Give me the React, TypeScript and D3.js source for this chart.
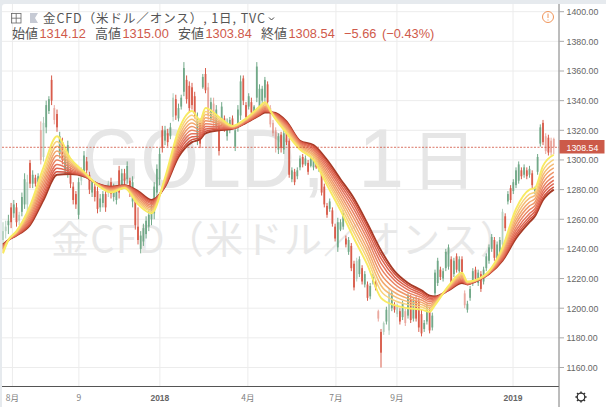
import * as d3 from 'd3';

// prices per bar, one candle for every two sessions
const highs = [
  1258,1259,1263,1271,1273,1271,1265,1278,1291,1290,
  1300,1293,1290,1291,1326,1329,1340,1343,1357,1337,
  1334,1319,1315,1306,1313,1295,1285,1279,1288,1295,
  1306,1302,1292,1287,1284,1282,1277,1279,1280,1286,
  1288,1284,1283,1296,1294,1294,1299,1288,1289,1275,
  1268,1252,1257,1262,1266,1272,1285,1297,1308,1323,
  1323,1321,1325,1345,1344,1338,1344,1366,1357,1353,
  1352,1346,1332,1328,1358,1362,1352,1342,1342,1337,
  1327,1339,1330,1328,1329,1330,1323,1337,1357,1357,
  1339,1345,1342,1337,1366,1351,1350,1356,1353,1337,
  1327,1322,1318,1319,1320,1321,1315,1295,1294,1295,
  1303,1304,1303,1300,1303,1302,1301,1302,1293,1284,
  1271,1274,1268,1257,1261,1260,1266,1249,1248,1244,
  1232,1234,1235,1229,1225,1218,1217,1223,1219,1199,
  1186,1191,1201,1213,1212,1204,1203,1200,1205,1200,
  1210,1209,1207,1208,1207,1199,1192,1203,1200,1197,
  1226,1234,1228,1227,1240,1243,1235,1234,1237,1235,
  1235,1212,1205,1215,1227,1228,1226,1225,1228,1237,
  1243,1250,1248,1245,1248,1267,1264,1279,1283,1287,
  1295,1299,1295,1297,1295,1296,1293,1282,1304,1324,
  1327,1318,1317,1315,1315,
];
const lows = [
  1240,1247,1250,1254,1261,1255,1256,1262,1267,1265,
  1281,1281,1282,1283,1297,1299,1318,1331,1337,1324,
  1319,1301,1297,1290,1288,1281,1270,1267,1260,1283,
  1288,1290,1277,1275,1272,1264,1265,1268,1265,1275,
  1274,1272,1270,1274,1280,1283,1284,1275,1268,1253,
  1243,1237,1242,1247,1252,1256,1260,1275,1283,1305,
  1310,1309,1314,1326,1327,1326,1334,1343,1338,1332,
  1334,1328,1310,1308,1348,1345,1327,1326,1322,1320,
  1303,1323,1319,1313,1318,1321,1306,1319,1327,1337,
  1326,1334,1329,1331,1339,1332,1338,1339,1337,1322,
  1316,1305,1304,1305,1304,1310,1288,1285,1283,1287,
  1293,1295,1296,1290,1295,1293,1294,1292,1276,1268,
  1261,1265,1255,1245,1238,1252,1253,1241,1236,1225,
  1212,1218,1221,1216,1214,1205,1206,1216,1212,1191,
  1160,1182,1189,1182,1198,1197,1194,1189,1192,1188,
  1193,1190,1191,1191,1184,1181,1184,1189,1183,1185,
  1208,1215,1219,1218,1225,1226,1215,1221,1224,1223,
  1221,1200,1197,1205,1215,1218,1215,1211,1216,1225,
  1230,1238,1232,1230,1235,1241,1252,1270,1271,1277,
  1281,1284,1287,1288,1287,1288,1281,1277,1290,1309,
  1310,1304,1303,1303,1303.84,
];
const opens = [
  1246,1252,1256,1268,1264,1268,1259,1265,1270,1270,
  1298,1284,1288,1285,1320,1302,1322,1333,1354,1335,
  1331,1304,1312,1293,1292,1292,1282,1277,1263,1286,
  1291,1299,1290,1278,1282,1279,1268,1271,1277,1278,
  1285,1275,1273,1293,1283,1291,1287,1286,1272,1272,
  1255,1240,1245,1250,1255,1260,1264,1278,1287,1320,
  1313,1318,1316,1329,1341,1328,1336,1346,1354,1350,
  1349,1343,1314,1325,1349,1358,1349,1328,1338,1323,
  1323,1326,1328,1316,1320,1328,1309,1322,1330,1355,
  1337,1336,1339,1332,1342,1335,1340,1342,1351,1335,
  1325,1320,1307,1317,1307,1319,1313,1287,1292,1289,
  1295,1302,1297,1298,1296,1295,1299,1294,1291,1282,
  1269,1267,1266,1255,1241,1253,1255,1247,1238,1242,
  1230,1220,1223,1227,1216,1216,1208,1218,1217,1198,
  1184,1184,1191,1185,1200,1202,1196,1198,1194,1198,
  1195,1206,1193,1205,1205,1196,1186,1191,1198,1187,
  1210,1217,1226,1220,1227,1228,1233,1223,1235,1225,
  1233,1210,1199,1207,1217,1226,1217,1223,1218,1227,
  1232,1240,1246,1232,1237,1243,1262,1272,1281,1279,
  1283,1286,1293,1290,1293,1290,1291,1279,1292,1311,
  1325,1316,1315,1313,1314.12,
];
const closes = [
  1252,1255,1259,1258,1270,1258,1263,1275,1287,1285,
  1284,1290,1284,1289,1300,1325,1337,1341,1340,1327,
  1322,1316,1300,1303,1310,1284,1273,1270,1285,1293,
  1303,1293,1280,1285,1275,1267,1274,1277,1268,1284,
  1277,1281,1280,1278,1291,1286,1296,1278,1285,1256,
  1246,1249,1254,1259,1263,1269,1282,1294,1304,1308,
  1320,1312,1322,1342,1330,1335,1342,1362,1341,1335,
  1337,1331,1328,1311,1356,1347,1330,1339,1325,1334,
  1306,1336,1322,1325,1327,1323,1320,1334,1353,1340,
  1329,1343,1332,1336,1363,1348,1348,1354,1339,1324,
  1318,1308,1316,1308,1318,1312,1290,1293,1285,1293,
  1301,1297,1301,1292,1301,1300,1295,1300,1278,1270,
  1263,1272,1257,1247,1258,1258,1264,1243,1246,1227,
  1214,1232,1233,1218,1223,1207,1215,1221,1214,1193,
  1170,1190,1199,1210,1210,1199,1201,1191,1203,1190,
  1208,1192,1205,1193,1187,1183,1190,1201,1185,1195,
  1224,1232,1221,1225,1238,1241,1217,1232,1226,1233,
  1223,1202,1203,1213,1225,1220,1224,1213,1226,1235,
  1241,1248,1234,1243,1246,1265,1254,1277,1273,1285,
  1293,1297,1289,1295,1289,1294,1283,1281,1302,1322,
  1312,1306,1305,1305,1308.54,
];
// candles that show up washed out in the picture
const fadedBars = [0, 1, 6, 9, 14, 15, 19, 29, 39, 63, 76, 78, 99, 100, 101, 131, 139, 141, 143, 146, 149, 171, 185, 201, 203, 204];

// moving average ribbon, read at these bars, fastest (yellow) to slowest (dark)
const ribbonBars = [0,2,5,10,15,20,25,30,35,40,45,50,55,60,65,70,73,75,80,85,90,95,97,100,105,110,115,120,125,130,135,140,145,150,155,158,160,165,170,172,175,180,185,190,195,197,200,204];
const ema1 = [1237,1246,1252,1269,1295,1316,1301,1292,1283,1278,1281,1270,1264,1288,1320,1333,1327,1335,1329,1323,1328,1336,1339,1330,1318,1307,1300,1283,1266,1247,1229,1207,1202,1200,1199,1197.5,1202,1215,1224,1218,1219,1225,1241,1267,1280,1281,1296,1303.5];
const ema2 = [1237.8,1246,1251.6,1267.2,1291.9,1312.4,1299.5,1291.6,1283.1,1278.6,1281.3,1271.3,1265.3,1287.2,1317.5,1330.1,1325.2,1332.6,1327.7,1322.7,1327.6,1335.2,1338,1330.3,1319.1,1307.8,1301.4,1285.4,1268.9,1250.8,1232.9,1211.5,1205.2,1202.4,1200.8,1199,1202.8,1214.6,1223,1217.7,1218.9,1224.7,1239.7,1264.2,1276.9,1278.3,1292.8,1300.2];
const ema3 = [1238.6,1246,1251.2,1265.6,1289.3,1309.2,1298.3,1291.2,1283.3,1279,1281.5,1272.3,1266.3,1286.4,1315.3,1327.5,1323.6,1330.6,1326.7,1322.5,1327.2,1334.4,1337.2,1330.5,1320.1,1308.6,1302.6,1287.4,1271.5,1254,1236.3,1215.3,1208,1204.4,1202.4,1200.4,1203.6,1214.2,1222.2,1217.5,1218.7,1224.5,1238.7,1261.8,1274.3,1276.1,1290,1297.4];
const ema4 = [1239.3,1246,1250.9,1264.1,1286.6,1306.1,1297,1290.9,1283.4,1279.5,1281.8,1273.4,1267.4,1285.7,1313.2,1325,1322.1,1328.5,1325.6,1322.2,1326.9,1333.7,1336.3,1330.8,1321,1309.3,1303.8,1289.5,1274,1257.3,1239.6,1219.2,1210.7,1206.5,1203.9,1201.7,1204.3,1213.9,1221.3,1217.2,1218.6,1224.2,1237.6,1259.4,1271.6,1273.8,1287.3,1294.6];
const ema5 = [1240,1246,1250.5,1262.5,1284,1303,1295.8,1290.5,1283.5,1280,1282,1274.5,1268.5,1285,1311,1322.5,1320.5,1326.5,1324.5,1322,1326.5,1333,1335.5,1331,1322,1310,1305,1291.5,1276.5,1260.5,1243,1223,1213.5,1208.5,1205.5,1203,1205,1213.5,1220.5,1217,1218.5,1224,1236.5,1257,1269,1271.5,1284.5,1291.8];
const ema6 = [1240.7,1246,1250.1,1260.9,1281.4,1299.9,1294.5,1290.1,1283.6,1280.5,1282.2,1275.6,1269.6,1284.3,1308.8,1320,1318.9,1324.5,1323.4,1321.8,1326.1,1332.3,1334.7,1331.2,1323,1310.7,1306.2,1293.5,1279,1263.7,1246.4,1226.8,1216.3,1210.5,1207.1,1204.3,1205.7,1213.1,1219.7,1216.8,1218.4,1223.8,1235.4,1254.6,1266.4,1269.2,1281.7,1288.9];
const ema7 = [1241.4,1246,1249.8,1259.5,1278.9,1297,1293.3,1289.8,1283.7,1280.9,1282.5,1276.6,1270.6,1283.6,1306.9,1317.7,1317.5,1322.6,1322.4,1321.5,1325.8,1331.6,1333.9,1331.5,1323.8,1311.4,1307.3,1295.4,1281.3,1266.7,1249.4,1230.4,1218.8,1212.4,1208.5,1205.5,1206.4,1212.8,1218.9,1216.5,1218.3,1223.5,1234.4,1252.4,1263.9,1267.1,1279.2,1286.3];
const ema8 = [1242,1246,1249.5,1258.2,1276.7,1294.4,1292.3,1289.5,1283.8,1281.3,1282.7,1277.5,1271.5,1283,1305.1,1315.6,1316.2,1320.9,1321.5,1321.3,1325.5,1331,1333.2,1331.7,1324.6,1312,1308.3,1297.1,1283.4,1269.4,1252.2,1233.6,1221.1,1214.1,1209.8,1206.6,1207,1212.5,1218.2,1216.3,1218.2,1223.3,1233.5,1250.4,1261.7,1265.2,1276.9,1284];
const ema9 = [1242.5,1246,1249.2,1257,1274.8,1292.1,1291.3,1289.2,1283.9,1281.7,1282.8,1278.3,1272.3,1282.5,1303.4,1313.7,1315,1319.4,1320.7,1321.2,1325.2,1330.5,1332.6,1331.8,1325.4,1312.5,1309.2,1298.6,1285.3,1271.8,1254.8,1236.4,1223.2,1215.6,1211,1207.6,1207.5,1212.2,1217.6,1216.2,1218.1,1223.2,1232.7,1248.6,1259.8,1263.5,1274.8,1281.9];
const ema10 = [1243,1246,1249,1256,1273,1290,1290.5,1289,1284,1282,1283,1279,1273,1282,1302,1312,1314,1318,1320,1321,1325,1330,1332,1332,1326,1313,1310,1300,1287,1274,1257,1239,1225,1217,1212,1208.5,1208,1212,1217,1216,1218,1223,1232,1247,1258,1262,1273,1280];
const ribbon = [ema10, ema9, ema8, ema7, ema6, ema5, ema4, ema3, ema2, ema1];
const ribbonColors = ['#a63a26', '#d2523f', '#de6550', '#e4735c', '#ea8464', '#ee9568', '#f2a86e', '#f5bb74', '#f8d27a', '#f8ea62'];

const priceTicks = [1400, 1380, 1360, 1340, 1320, 1300, 1280, 1260, 1240, 1220, 1200, 1180, 1160];
const timeBars = [3.5, 28.1, 58.1, 90.7, 123.3, 145.9, 188.9];
const timeLabels = ['8月', '9', '2018', '4月', '7月', '9月', '2019'];
const lastPrice = 1308.54;
const legendItems = [
  { name: '始値', value: '1314.12', x: 12 },
  { name: '高値', value: '1315.00', x: 95 },
  { name: '安値', value: '1303.84', x: 178 },
  { name: '終値', value: '1308.54', x: 261 },
];

const UP = '#6ba583';
const DOWN = '#d75442';
const RED_TEXT = '#cf5a4b';
const GRID = '#ececec';
const MARK = '#e6e6e6';
const FONT = '"Liberation Sans", Arial, sans-serif';
const JP = '"Noto Sans CJK JP", sans-serif';

const App = () => {
  const x = d3.scaleLinear().domain([0, 204]).range([3, 553.8]);
  const y = d3.scaleLinear().domain([1160, 1400]).range([367.5, 11.7]);
  const ribbonLine = d3.line<number>()
    .x((_, i) => x(ribbonBars[i]))
    .y(d => y(d))
    .curve(d3.curveMonotoneX);
  const gearTeeth = d3.range(8).map(i => i * 45);

  return (
    <svg width={606} height={407} style={{ position: 'absolute', left: 0, top: 0, background: '#e6eaee' }}>
      <rect x={2} y={4} width={610} height={410} rx={3} fill="#fff" />

      {/* grid */}
      {priceTicks.map(p => (
        <line key={p} x1={2} x2={559} y1={y(p)} y2={y(p)} stroke={GRID} strokeWidth={1} />
      ))}
      {timeBars.map(b => (
        <line key={b} x1={x(b)} x2={x(b)} y1={4} y2={386} stroke={GRID} strokeWidth={1} />
      ))}

      {/* watermark */}
      <text x={82} y={187} fontFamily={FONT} fontSize={83} fill={MARK} textLength={213} lengthAdjust="spacingAndGlyphs">GOLD</text>
      <text x={302} y={187} fontFamily={FONT} fontSize={83} fill={MARK}>,</text>
      <text x={358} y={187} fontFamily={FONT} fontSize={83} fill={MARK}>1</text>
      <text x={411} y={184} fontFamily={JP} fontSize={66} fill={MARK}>日</text>
      <text x={51} y={253} fontFamily={JP} fontSize={38} fill="#e8e8e8" textLength={467}>金CFD（米ドル／オンス）</text>

      {/* candles */}
      <g>
        {highs.map((h, i) => {
          const up = closes[i] >= opens[i];
          const color = up ? UP : DOWN;
          const top = y(Math.max(opens[i], closes[i]));
          const bottom = y(Math.min(opens[i], closes[i]));
          return (
            <g key={i} opacity={fadedBars.includes(i) ? 0.5 : 0.95}>
              <line x1={x(i)} x2={x(i)} y1={y(h)} y2={y(lows[i])} stroke={color} strokeWidth={1} />
              <rect x={x(i) - 0.9} y={top} width={1.8} height={Math.max(bottom - top, 0.8)} fill={color} />
            </g>
          );
        })}
      </g>

      {/* ribbon */}
      <g fill="none">
        {ribbon.map((series, i) => (
          <path
            key={i}
            d={ribbonLine(series) || ''}
            stroke={ribbonColors[i]}
            strokeWidth={i === 0 || i === ribbon.length - 1 ? 1.9 : 1.5}
          />
        ))}
      </g>

      {/* last price */}
      <line x1={2} x2={559} y1={y(lastPrice)} y2={y(lastPrice)} stroke="#d0503e" strokeWidth={0.8} strokeDasharray="2,1.5" />

      {/* axes */}
      <line x1={2} x2={559} y1={386.5} y2={386.5} stroke="#555" strokeWidth={1} />
      <line x1={559} x2={559} y1={4} y2={407} stroke="#7a7a7a" strokeWidth={1} />
      {priceTicks.map(p => (
        <g key={p}>
          <line x1={559} x2={564} y1={y(p)} y2={y(p)} stroke="#aaa" strokeWidth={1} />
          <text x={566.5} y={y(p) + 3.3} fontFamily={FONT} fontSize={8.8} fill="#666">{p.toFixed(2)}</text>
        </g>
      ))}
      <rect x={559.5} y={140} width={45} height={13.5} fill="#cc5a49" />
      <text x={566.5} y={y(lastPrice) + 3.3} fontFamily={FONT} fontSize={8.8} fill="#fff">{lastPrice.toFixed(2)}</text>
      {timeBars.map((b, i) => {
        const bold = timeLabels[i].startsWith('20');
        return (
          <text
            key={b}
            x={x(b)}
            y={401}
            textAnchor="middle"
            fontFamily={bold ? FONT : JP}
            fontSize={8.5}
            fontWeight={bold ? 'bold' : 'normal'}
            fill={bold ? '#666' : '#808080'}
          >
            {timeLabels[i]}
          </text>
        );
      })}

      {/* title and legend */}
      <rect x={11.5} y={13.5} width={9.5} height={9.5} fill="none" stroke="#666" strokeWidth={0.8} />
      <path d="M16.2 13.5V23M11.5 18.2H21" stroke="#666" strokeWidth={0.8} />
      <path d="M30 13H38L35 18L38 23H30Z" fill="#c6cad4" />
      <text x={43} y={23} fontFamily={JP} fontSize={12.5} fill="#555" textLength={222}>金CFD（米ドル／オンス）, 1日, TVC</text>
      <path d="M269 17.5L271.5 20L274 17.5" fill="none" stroke="#444" strokeWidth={1} />
      {legendItems.map(d => (
        <g key={d.name}>
          <text x={d.x} y={38} fontSize={13} fontFamily={JP} fill="#555">{d.name}</text>
          <text x={d.x + 27.5} y={38} fontSize={12.8} fontFamily={FONT} fill={RED_TEXT}>{d.value}</text>
        </g>
      ))}
      <text x={344} y={38} fontFamily={FONT} fontSize={12.8} fill={RED_TEXT}>−5.66</text>
      <text x={382} y={38} fontFamily={FONT} fontSize={12.8} fill={RED_TEXT}>(−0.43%)</text>

      {/* alert icon */}
      <circle cx={548} cy={17} r={5.5} fill="none" stroke="#f0955a" strokeWidth={1} />
      <path d="M548 13.5V18M548 19.5V20.5" stroke="#f0955a" strokeWidth={1} />

      {/* settings gear */}
      <g transform="translate(581,397)" fill="none" stroke="#333">
        <circle r={3.8} strokeWidth={1.3} />
        {gearTeeth.map(a => (
          <line key={a} x1={0} x2={0} y1={-3.8} y2={-5.6} strokeWidth={1.5} transform={`rotate(${a})`} />
        ))}
      </g>
    </svg>
  );
};

export default App;
